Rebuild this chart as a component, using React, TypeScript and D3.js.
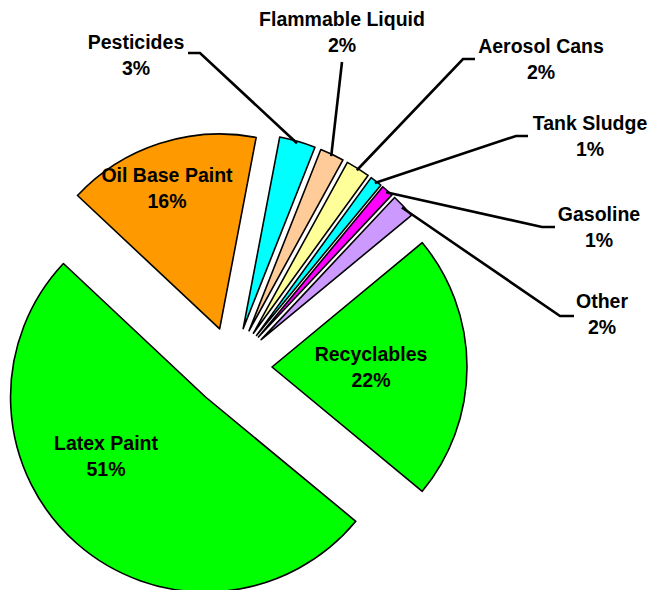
import React from 'react';
import * as d3 from 'd3';

// slice data, clockwise starting from Recyclables
const categories = [
  'Recyclables',
  'Latex Paint',
  'Oil Base Paint',
  'Pesticides',
  'Flammable Liquid',
  'Aerosol Cans',
  'Tank Sludge',
  'Gasoline',
  'Other'
];
const percents = [22, 51, 16, 3, 2, 2, 1, 1, 2];
const sliceColors = [
  '#00FF00',
  '#00FF00',
  '#FF9900',
  '#00FFFF',
  '#FFCC99',
  '#FFFF99',
  '#00FFFF',
  '#FF00FF',
  '#CC99FF'
];

const WIDTH = 655;
const HEIGHT = 590;
const CX = 232;
const CY = 367;
const RADIUS = 195;
const EXPLODE = 40;
const START = (50.4 * Math.PI) / 180;
const FONT = '"Liberation Sans", Arial, Helvetica, sans-serif';
const FONT_SIZE = 19.5;
const LINE_GAP = 25.5;

// labels drawn inside their slice: [centre x, first baseline]
const innerLabels: Record<string, [number, number]> = {
  Recyclables: [371, 361],
  'Latex Paint': [106, 450],
  'Oil Base Paint': [167, 182]
};

// labels outside with leader lines: text pos, elbow, end of horizontal tail
const outerLabels: Record<string, { text: [number, number]; elbow: [number, number]; end: [number, number] }> = {
  Pesticides: { text: [136, 49], elbow: [200, 53], end: [188, 53] },
  'Flammable Liquid': { text: [342, 26], elbow: [342, 62], end: [342, 62] },
  'Aerosol Cans': { text: [541, 53], elbow: [463, 59], end: [475, 59] },
  'Tank Sludge': { text: [590, 130], elbow: [516, 136], end: [528, 136] },
  Gasoline: { text: [599, 221], elbow: [542, 227], end: [555, 227] },
  Other: { text: [602, 308], elbow: [560, 316], end: [574, 316] }
};

type Slice = { name: string; value: number; color: string };

const slices: Slice[] = categories.map((name, i) => ({
  name,
  value: percents[i],
  color: sliceColors[i]
}));

const App: React.FC = () => {
  const pie = d3
    .pie<Slice>()
    .value(d => d.value)
    .sort(null)
    .startAngle(START)
    .endAngle(START + 2 * Math.PI);

  const arc = d3
    .arc<d3.PieArcDatum<Slice>>()
    .innerRadius(0)
    .outerRadius(RADIUS);

  const arcs = pie(slices);

  // unit vector (screen coords) for a d3 pie angle
  const dir = (a: number): [number, number] => [Math.sin(a), -Math.cos(a)];

  return (
    <svg
      width={WIDTH}
      height={HEIGHT}
      style={{ position: 'absolute', left: 0, top: 0, background: '#ffffff' }}
      fontFamily={FONT}
      fontWeight="bold"
      fontSize={FONT_SIZE}
    >
      <rect width={WIDTH} height={HEIGHT} fill="#ffffff" />
      {arcs.map(d => {
        const mid = (d.startAngle + d.endAngle) / 2;
        const [ux, uy] = dir(mid);
        const ox = CX + ux * EXPLODE;
        const oy = CY + uy * EXPLODE;
        return (
          <path
            key={d.data.name}
            d={arc(d) || ''}
            transform={`translate(${ox},${oy})`}
            fill={d.data.color}
            stroke="#000000"
            strokeWidth={1.6}
            strokeLinejoin="round"
          />
        );
      })}

      {/* leader lines */}
      {arcs
        .filter(d => outerLabels[d.data.name])
        .map(d => {
          const mid = (d.startAngle + d.endAngle) / 2;
          const [ux, uy] = dir(mid);
          const ax = CX + ux * (EXPLODE + RADIUS - 2);
          const ay = CY + uy * (EXPLODE + RADIUS - 2);
          const lab = outerLabels[d.data.name];
          const line = d3.line()([
            [ax, ay],
            lab.elbow,
            lab.end
          ]);
          return (
            <path
              key={`lead-${d.data.name}`}
              d={line || ''}
              fill="none"
              stroke="#000000"
              strokeWidth={2.6}
              strokeLinejoin="miter"
            />
          );
        })}

      {/* outer labels */}
      {arcs
        .filter(d => outerLabels[d.data.name])
        .map(d => {
          const [tx, ty] = outerLabels[d.data.name].text;
          return (
            <text key={`lbl-${d.data.name}`} textAnchor="middle" fill="#000000">
              <tspan x={tx} y={ty}>
                {d.data.name}
              </tspan>
              <tspan x={tx} y={ty + LINE_GAP}>
                {`${d.data.value}%`}
              </tspan>
            </text>
          );
        })}

      {/* inner labels */}
      {arcs
        .filter(d => innerLabels[d.data.name])
        .map(d => {
          const [tx, ty] = innerLabels[d.data.name];
          return (
            <text key={`in-${d.data.name}`} textAnchor="middle" fill="#000000">
              <tspan x={tx} y={ty}>
                {d.data.name}
              </tspan>
              <tspan x={tx} y={ty + LINE_GAP}>
                {`${d.data.value}%`}
              </tspan>
            </text>
          );
        })}
    </svg>
  );
};

export default App;
